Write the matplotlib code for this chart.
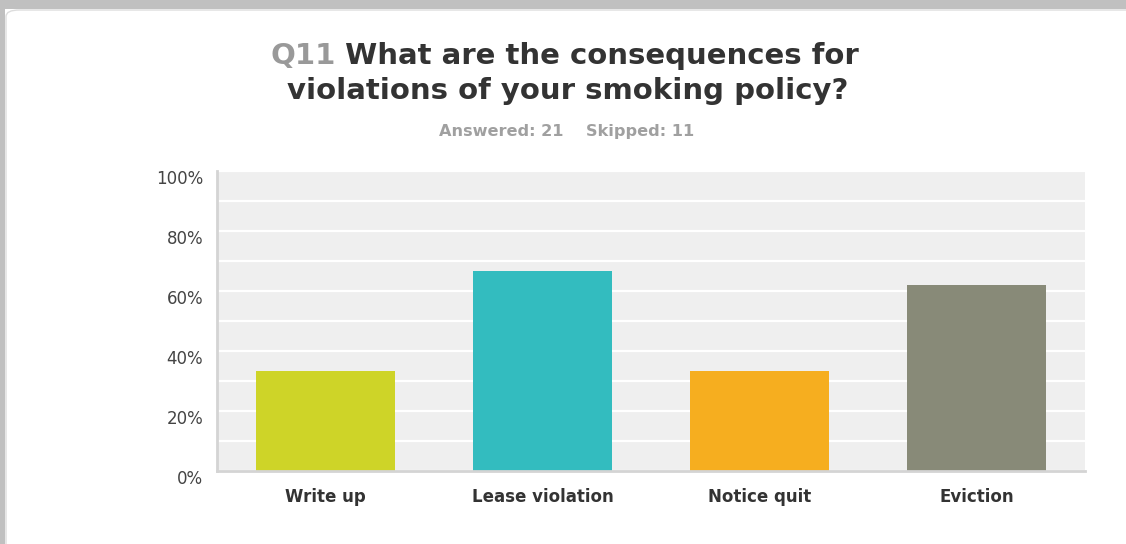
import matplotlib.pyplot as plt
from matplotlib.patches import Rectangle, FancyBboxPatch
from matplotlib.text import Annotation
from matplotlib.transforms import ScaledTranslation

# survey answers, Q11 (21 answered, 11 skipped)
categories = ['Write up', 'Lease violation', 'Notice quit', 'Eviction']
percent = [33.33, 66.67, 33.33, 61.90]
colors = ['#CED428', '#33BCBF', '#F6AE1F', '#888A78']
y_ticks = [0, 20, 40, 60, 80, 100]
y_labels = ['0%', '20%', '40%', '60%', '80%', '100%']

plt.rcParams['font.family'] = ['DejaVu Sans']

fig = plt.figure(figsize=(11.26, 5.44), dpi=100)
fig.patch.set_facecolor('white')

# grey page frame around the white panel (kept behind the axes)
fig.patches.append(Rectangle((0, 1 - 9 / 544), 1, 9 / 544, transform=fig.transFigure,
                             facecolor='#C0C0C0', edgecolor='none', zorder=-3))
fig.patches.append(Rectangle((0, 0), 5 / 1126, 1, transform=fig.transFigure,
                             facecolor='#C0C0C0', edgecolor='none', zorder=-3))
fig.patches.append(FancyBboxPatch((6 / 1126, -0.05), 1.2, 1 - 10 / 544 + 0.05,
                                  boxstyle='round,pad=0,rounding_size=0.012',
                                  transform=fig.transFigure, facecolor='white',
                                  edgecolor='#DDDDDD', linewidth=1, zorder=-2))

ax = fig.add_axes([217 / 1126, 73 / 544, 868 / 1126, 300 / 544])
ax.set_facecolor('#EFEFEF')

x = range(len(categories))
ax.bar(x, percent, width=0.64, color=colors, edgecolor='none', zorder=3)

ax.set_xlim(-0.5, len(categories) - 0.5)
ax.set_ylim(0, 100)
ax.set_yticks(y_ticks)
ax.set_yticklabels(y_labels)
ax.set_yticks(range(10, 100, 20), minor=True)
ax.set_xticks(list(x))
ax.set_xticklabels(categories, fontweight='bold')

ax.grid(axis='y', which='both', color='white', linewidth=1.6, zorder=1)
ax.tick_params(axis='y', which='both', length=0, pad=10, labelsize=12, labelcolor='#444444')
ax.tick_params(axis='x', length=0, pad=12, labelsize=12, labelcolor='#333333')

# y labels sit a little below their gridline in the original
shift = ScaledTranslation(0, -6 / 100, fig.dpi_scale_trans)
for lab in ax.get_yticklabels():
    lab.set_transform(lab.get_transform() + shift)

for side in ['top', 'right']:
    ax.spines[side].set_visible(False)
for side in ['left', 'bottom']:
    ax.spines[side].set_color('#D4D4D4')
    ax.spines[side].set_linewidth(2)
    ax.spines[side].set_zorder(4)

# title: "Q11" in grey, the question in dark grey
q = fig.text(270 / 1126, 1 - 64 / 544, 'Q11', fontsize=21, fontweight='bold',
             color='#999999', ha='left', va='baseline')
fig.add_artist(Annotation(' What are the consequences for', xy=(1, 0), xycoords=q,
                          fontsize=21, fontweight='bold', color='#333333',
                          ha='left', va='bottom', annotation_clip=False))
fig.text(568 / 1126, 1 - 99 / 544, 'violations of your smoking policy?', fontsize=21,
         fontweight='bold', color='#333333', ha='center', va='baseline')

fig.text(567 / 1126, 1 - 136 / 544, 'Answered: 21    Skipped: 11', fontsize=11.6,
         fontweight='bold', color='#A0A0A0', ha='center', va='baseline')

fig.savefig('out.png', dpi=100)
